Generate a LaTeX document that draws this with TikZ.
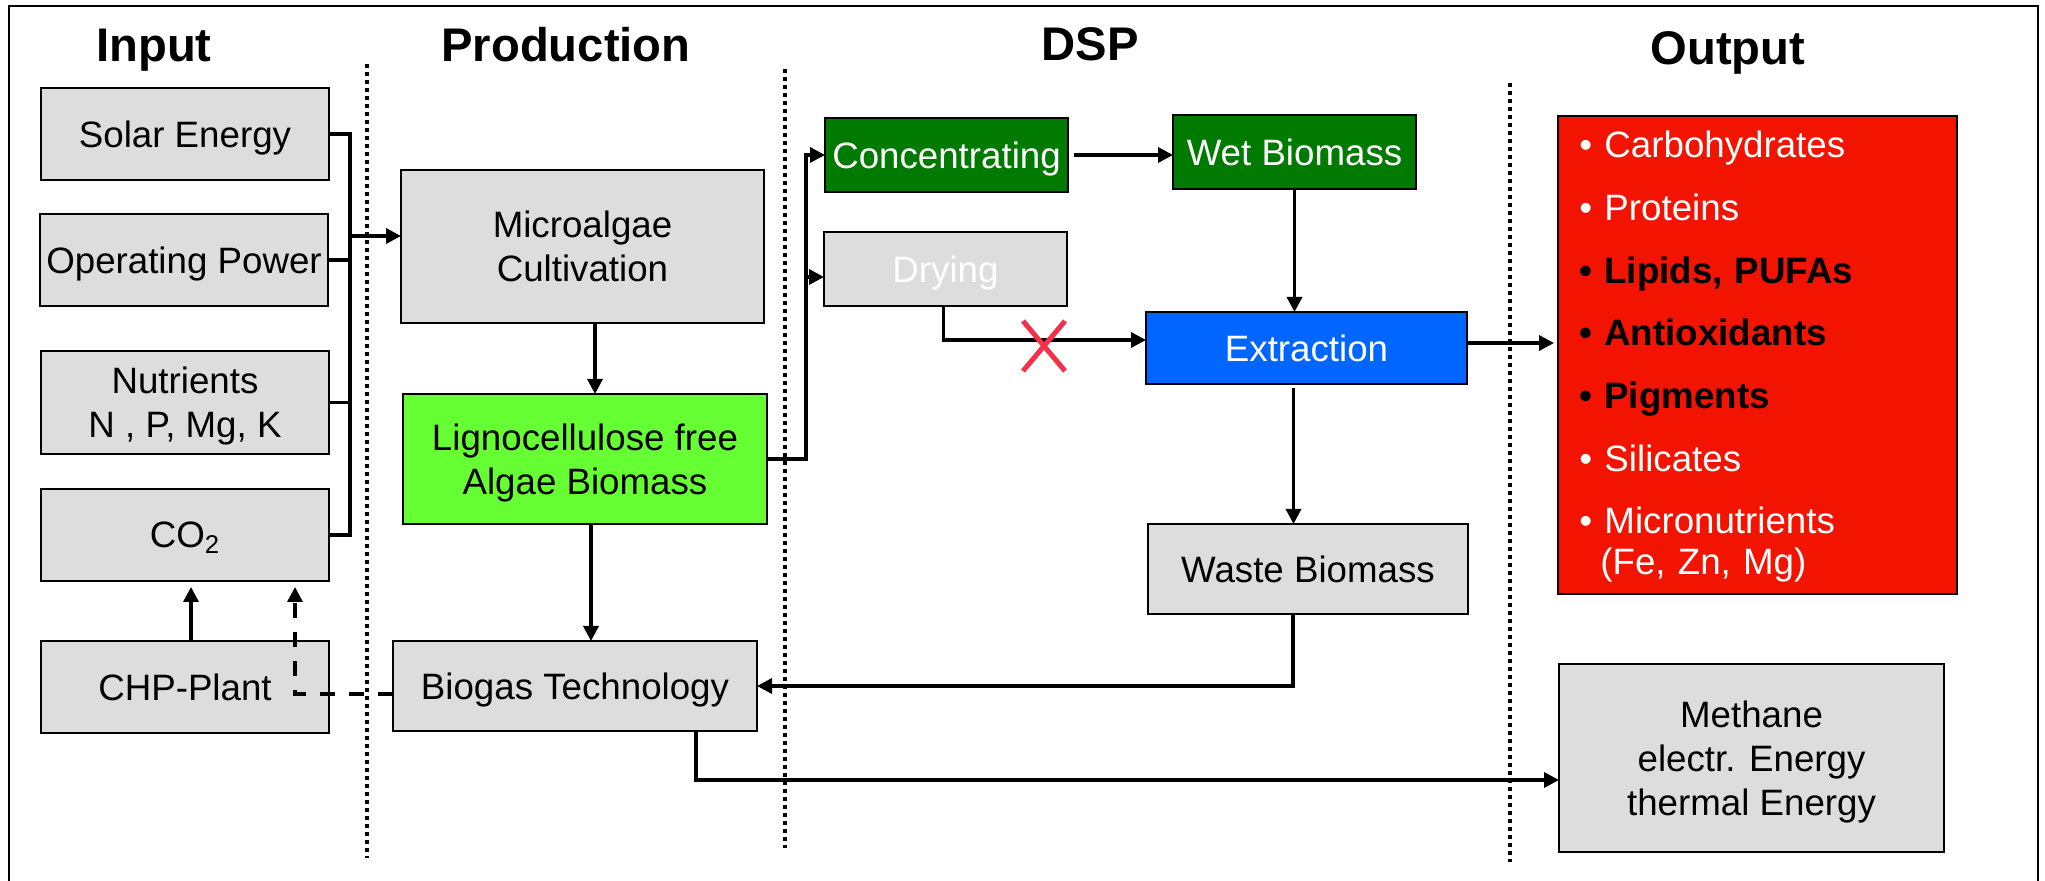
\documentclass[tikz,border=0pt]{standalone}
\usepackage{fontspec}
\setmainfont{Liberation Sans}
\usetikzlibrary{arrows.meta,calc,shapes.misc}
\definecolor{boxgrey}{HTML}{DDDDDD}
\definecolor{darkgreen}{HTML}{007A00}
\definecolor{lightgreen}{HTML}{66FF33}
\definecolor{extrblue}{HTML}{0066FF}
\definecolor{outred}{HTML}{F21400}
\definecolor{crossred}{HTML}{F4304A}

\begin{document}
\begin{tikzpicture}[x=0.5pt,y=-0.5pt,
  procbox/.style={draw=black, line width=1pt, fill=boxgrey, inner sep=0pt, outer sep=0pt,
    align=center, text depth=0pt, font=\fontsize{18.35}{22}\selectfont},
  hdr/.style={font=\fontsize{23.6}{28}\selectfont\bfseries, anchor=base, inner sep=0pt},
  plainline/.style={line width=1.7pt},
  arrowline/.style={line width=1.7pt, -{Triangle[length=7.5pt,width=7.5pt]}},
  sepline/.style={line width=2pt, dash pattern=on 2pt off 2pt},
  ]
\useasboundingbox (0,0) rectangle (2045,881);

% outer frame (runs off the bottom of the page)
\draw[line width=1pt] (9,895) -- (9,6) -- (2038,6) -- (2038,895);

% stage dividers
\draw[sepline] (367,64) -- (367,858);
\draw[sepline] (785,69) -- (785,848);
\draw[sepline] (1510,83) -- (1510,862);

% stage headings
\node[hdr] (hin)   at (154,62)  {Input};
\node[hdr] (hprod) at (566,62)  {Production};
\node[hdr] (hdsp)  at (1090,61) {DSP};
\node[hdr] (hout)  at (1728,65) {Output};

% input column
\node[procbox, minimum width=144pt, minimum height=46pt]   (solar) at (185,134)   {Solar Energy};
\node[procbox, minimum width=144pt, minimum height=46pt]   (power) at (184,260)   {Operating Power};
\node[procbox, minimum width=144pt, minimum height=51.5pt] (nutr)  at (185,402.5) {Nutrients\\N , P, Mg, K};
\node[procbox, minimum width=144pt, minimum height=46pt]   (co2)   at (185,535)   {CO\textsubscript{2}};
\node[procbox, minimum width=144pt, minimum height=46pt]   (chp)   at (185,687)   {CHP-Plant};

% production column
\node[procbox, minimum width=181.5pt, minimum height=76.5pt] (cult) at (582.5,246.5) {Microalgae\\Cultivation};
\node[procbox, fill=lightgreen, minimum width=182pt, minimum height=65pt] (ligno) at (585,459) {Lignocellulose free\\Algae Biomass};
\node[procbox, minimum width=182pt, minimum height=45pt] (biogas) at (575,686) {Biogas Technology};

% downstream processing
\node[procbox, fill=darkgreen, text=white, minimum width=121.5pt, minimum height=37pt] (conc) at (946.5,155) {Concentrating};
\node[procbox, fill=darkgreen, text=white, minimum width=121.5pt, minimum height=37pt] (wet) at (1294.5,152) {Wet Biomass};
\node[procbox, text=white, minimum width=121.5pt, minimum height=37pt] (dry) at (945.5,269) {Drying};
\node[procbox, fill=extrblue, text=white, minimum width=160.5pt, minimum height=36pt] (extr) at (1306.5,348) {Extraction};
\node[procbox, minimum width=160pt, minimum height=45pt] (waste) at (1308,569) {Waste Biomass};

% output column
\node[procbox, fill=outred, minimum width=199.5pt, minimum height=239pt] (out) at (1757.5,355) {};
\node[anchor=base west, inner sep=0pt, text width=180pt, align=left, text=white,
      font=\fontsize{18.35}{24}\selectfont] (outlist) at (1579,158)
  {• Carbohydrates\\[7.33pt]
   • Proteins\\[7.33pt]
   {\color{black}\bfseries • Lipids, PUFAs}\\[7.33pt]
   {\color{black}\bfseries • Antioxidants}\\[7.33pt]
   {\color{black}\bfseries • Pigments}\\[7.33pt]
   • Silicates\\[7.33pt]
   • Micronutrients\\[-3.8pt]
   \hspace*{10.5pt}(Fe, Zn, Mg)};
\node[procbox, minimum width=192.5pt, minimum height=94pt] (methane) at (1751.5,758) {Methane\\electr. Energy\\thermal Energy};

% input bus into cultivation
\coordinate (bus) at (350,535);
\coordinate (feed) at (350,236);
\draw[plainline] (solar.east) -| (bus) -- (co2.east);
\draw[plainline] (power.east) -- (power.east -| bus);
\draw[plainline] (nutr.east) -- (nutr.east -| bus);
\draw[arrowline] (feed) -- (feed -| cult.west);

% production flow
\coordinate (cultout) at ($(cult.south)+(12.5,0)$);
\coordinate (lignoout) at ($(ligno.south)+(6,0)$);
\draw[arrowline] (cultout) -- (cultout |- ligno.north);
\draw[arrowline] (lignoout) -- (lignoout |- biogas.north);

% CHP plant feedback
\draw[arrowline] ($(chp.north)+(6,0)$) -- ($(co2.south)+(6,6)$);
\draw[arrowline, dash pattern=on 7.5pt off 7pt] ($(biogas.west)+(0,8)$) -| ($(co2.south)+(110,6)$);

% biomass to downstream processing
\draw[arrowline] (ligno.east) -| ($(conc.west)+(-19,0)$) -- (conc.west);
\draw[arrowline] ($(dry.west)+(-19,8)$) -- ($(dry.west)+(0,8)$);
\draw[arrowline] ($(conc.east)+(6,0)$) -- (conc.east -| wet.west);
\draw[arrowline] (wet.south) -- (wet.south |- extr.north);
\draw[arrowline] ($(dry.south)+(-2,0)$) |- ($(extr.west)+(0,-8)$);
\node[cross out, draw=crossred, line width=2.5pt, minimum width=18.5pt, minimum height=22.5pt, inner sep=0pt] (cross) at (1044,346) {};

% products and residues
\coordinate (extrout) at ($(extr.south)+(-13,4)$);
\draw[arrowline, shorten >=2pt] ($(extr.east)+(0,-5)$) -- ($(out.west)+(0,-12)$);
\draw[arrowline] (extrout) -- (extrout |- waste.north);
\draw[arrowline] ($(waste.south)+(-15,0)$) |- (biogas.east);
\draw[arrowline] ($(biogas.south)+(121,0)$) |- ($(methane.west)+(0,22)$);
\end{tikzpicture}
\end{document}
